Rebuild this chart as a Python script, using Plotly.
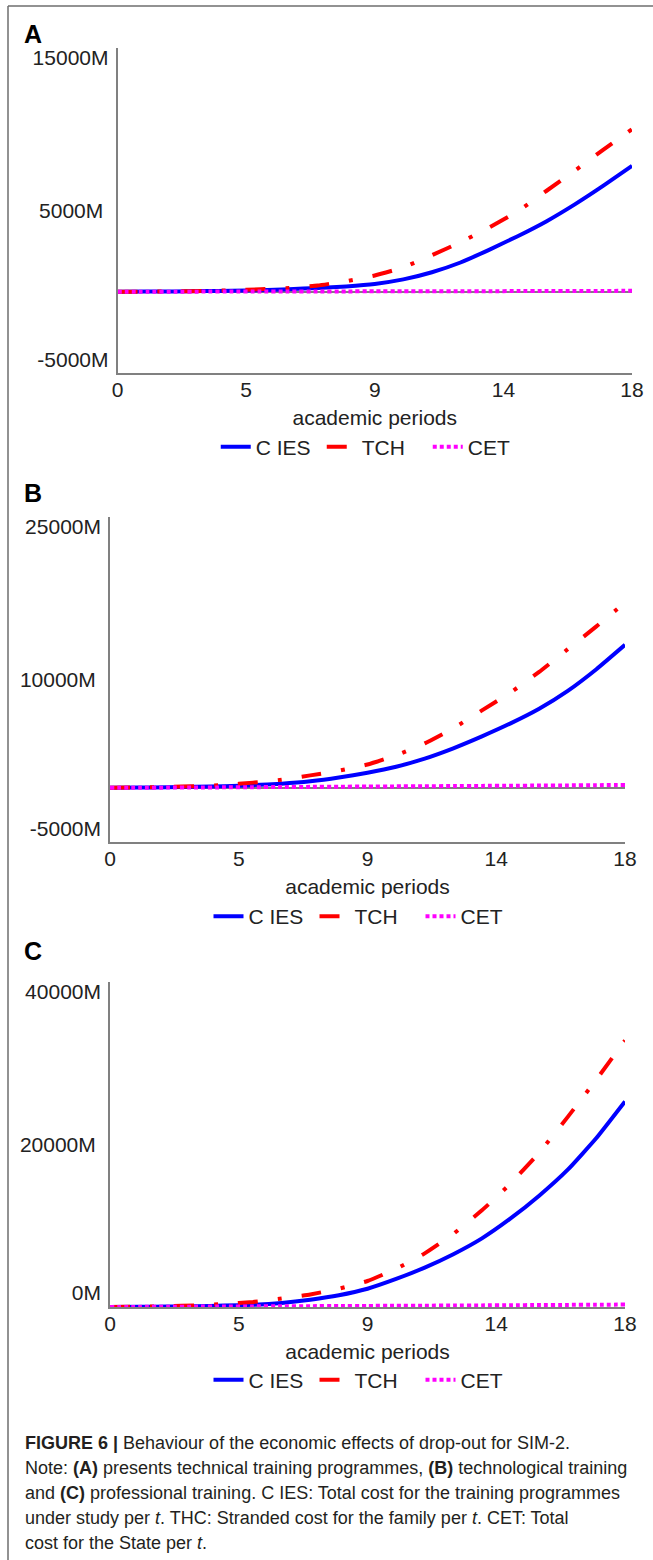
import plotly.graph_objects as go

periods = list(range(19))
tick_vals_x = [0, 4.5, 9, 13.5, 18]
tick_text_x = ["0", "5", "9", "14", "18"]

# Panel A: technical training programmes
A_cies = [0, 10, 20, 40, 60, 100, 160, 230, 330, 480, 760, 1200, 1800, 2580, 3420, 4330, 5380, 6530, 7750]
A_tch = [0, 10, 25, 50, 90, 150, 230, 380, 650, 1000, 1500, 2250, 3050, 3950, 4950, 6200, 7450, 8750, 10000]
A_cet = [0, 2, 5, 8, 10, 13, 16, 19, 22, 25, 28, 31, 34, 37, 40, 44, 48, 52, 56]
A_ticks = [-5000, 5000, 15000]
A_ticktext = ["-5000M", "5000M", "15000M"]

# Panel B: technological training
B_cies = [0, 20, 50, 90, 150, 250, 380, 600, 950, 1400, 1950, 2700, 3650, 4750, 5950, 7300, 8950, 10950, 13200]
B_tch = [0, 30, 80, 150, 270, 480, 750, 1150, 1580, 2150, 3000, 4100, 5500, 7150, 8800, 10700, 12800, 14900, 17100]
B_cet = [0, 10, 20, 30, 45, 60, 75, 90, 105, 120, 135, 150, 165, 180, 195, 210, 225, 245, 265]
B_ticks = [-5000, 10000, 25000]
B_ticktext = ["-5000M", "10000M", "25000M"]

# Panel C: professional training
C_cies = [0, 20, 50, 100, 170, 270, 500, 900, 1450, 2250, 3450, 4850, 6500, 8450, 10900, 13700, 16900, 20800, 25300]
C_tch = [0, 40, 100, 200, 370, 620, 1050, 1550, 2250, 3200, 4700, 6600, 9000, 11900, 15200, 19000, 23400, 28000, 32800]
C_cet = [0, 15, 30, 45, 60, 75, 90, 105, 120, 135, 150, 165, 180, 200, 220, 240, 260, 280, 300]
C_ticks = [0, 20000, 40000]
C_ticktext = ["0M", "20000M", "40000M"]

series_names = ["C IES", "TCH", "CET"]
colors = ["#0000ff", "#ff0000", "#ff00ff"]
dashes = ["solid", "20px,20px,4px,20px", "4px,3px"]

W, H = 653, 1560
FONT = "Liberation Sans, Arial, sans-serif"
TXT = "#222222"
AX = "#808080"

panels = [
    dict(data=[A_cies, A_tch, A_cet], rng=[-5000, 15000], tv=A_ticks, tt=A_ticktext,
         xpx=(117.5, 632), ypx=(48, 373), letter="A", lety=34, legy=447, shift=(-13, 10)),
    dict(data=[B_cies, B_tch, B_cet], rng=[-5000, 25000], tv=B_ticks, tt=B_ticktext,
         xpx=(110, 625), ypx=(517, 842), letter="B", lety=493, legy=916.5, shift=(-13, 10)),
    dict(data=[C_cies, C_tch, C_cet], rng=[0, 40000], tv=C_ticks, tt=C_ticktext,
         xpx=(110, 625), ypx=(982, 1307), letter="C", lety=951, legy=1380, shift=(-14, 10)),
]

fig = go.Figure()
layout = dict(
    width=W, height=H,
    margin=dict(l=0, r=0, t=0, b=0),
    paper_bgcolor="white", plot_bgcolor="white",
    font=dict(family=FONT, size=21, color=TXT),
    showlegend=True,
)
annotations = []
shapes = []

extra = 4
for i, p in enumerate(panels):
    n = "" if i == 0 else str(i + 1)
    xa = "x" + n
    ya = "y" + n
    leg = "legend" + n
    for s in range(3):
        fig.add_trace(go.Scatter(
            x=periods, y=p["data"][s], mode="lines", name=series_names[s],
            line=dict(color=colors[s], width=4, dash=dashes[s], shape="spline", smoothing=0.4),
            xaxis=xa, yaxis=ya, legend=leg, hoverinfo="skip",
        ))
    x0, x1 = p["xpx"]
    y0, y1 = p["ypx"]
    layout["xaxis" + n] = dict(
        domain=[x0 / W, x1 / W], anchor=ya, range=[0, 18],
        tickvals=tick_vals_x, ticktext=tick_text_x, ticks="",
        showline=True, linecolor=AX, linewidth=2, showgrid=False, zeroline=False,
        tickfont=dict(size=21, color=TXT), automargin=False, ticklabelstandoff=-3,
        title=dict(text="academic periods", font=dict(size=21, color=TXT), standoff=10),
        fixedrange=True,
    )
    # main y axis: axis line and middle tick label
    layout["yaxis" + n] = dict(
        domain=[1 - y1 / H, 1 - y0 / H], anchor=xa, range=p["rng"],
        tickvals=[p["tv"][1]], ticktext=[p["tt"][1]], ticks="",
        showline=True, linecolor=AX, linewidth=2, showgrid=False,
        zeroline=(p["rng"][0] < 0), zerolinecolor=AX, zerolinewidth=1.5,
        tickfont=dict(size=21, color=TXT), automargin=False, ticklabelstandoff=8,
        fixedrange=True,
    )
    # overlay axes carrying the end labels, nudged inward as in the reference
    for k, sh in [(0, p["shift"][0]), (2, p["shift"][1])]:
        yn = str(extra)
        extra += 1
        layout["yaxis" + yn] = dict(
            overlaying=ya, anchor=xa, side="left", range=p["rng"],
            tickvals=[p["tv"][k]], ticktext=[p["tt"][k]], ticks="",
            showline=False, showgrid=False, zeroline=False,
            tickfont=dict(size=21, color=TXT), automargin=False,
            ticklabelstandoff=8, ticklabelshift=sh, fixedrange=True,
        )
        fig.add_trace(go.Scatter(x=[], y=[], mode="lines", showlegend=False,
                                 xaxis=xa, yaxis="y" + yn, hoverinfo="skip"))
    layout[leg] = dict(
        orientation="h", x=(x0 + x1) / 2 / W, xanchor="center",
        y=1 - p["legy"] / H, yanchor="middle",
        font=dict(size=21, color=TXT), entrywidth=61, entrywidthmode="pixels",
        bgcolor="rgba(0,0,0,0)", itemclick=False, itemdoubleclick=False,
    )
    annotations.append(dict(
        text="<b>%s</b>" % p["letter"], x=22 / W, y=1 - p["lety"] / H,
        xref="paper", yref="paper", xanchor="left", yanchor="middle",
        showarrow=False, font=dict(size=25, color="#000000", family=FONT),
    ))

caption = [
    "<b>FIGURE 6 |</b> Behaviour of the economic effects of drop-out for SIM-2.",
    "Note: <b>(A)</b> presents technical training programmes, <b>(B)</b> technological training",
    "and <b>(C)</b> professional training. C IES: Total cost for the training programmes",
    "under study per <i>t</i>. THC: Stranded cost for the family per <i>t</i>. CET: Total",
    "cost for the State per <i>t</i>.",
]
for k, line in enumerate(caption):
    yc = 1443 + 25 * k
    annotations.append(dict(
        text=line, x=23 / W, y=1 - yc / H, xref="paper", yref="paper",
        xanchor="left", yanchor="middle", showarrow=False, align="left",
        font=dict(size=18, color="#231f20", family=FONT),
    ))

# frame lines (left and top)
shapes.append(dict(type="line", xref="paper", yref="paper", x0=8 / W, x1=8 / W,
                   y0=0, y1=1 - 6 / H, line=dict(color="#6e6e6e", width=1.5)))
shapes.append(dict(type="line", xref="paper", yref="paper", x0=8 / W, x1=1,
                   y0=1 - 6 / H, y1=1 - 6 / H, line=dict(color="#6e6e6e", width=1.5)))

layout["annotations"] = annotations
layout["shapes"] = shapes
fig.update_layout(**layout)
fig.write_html("out.html")
